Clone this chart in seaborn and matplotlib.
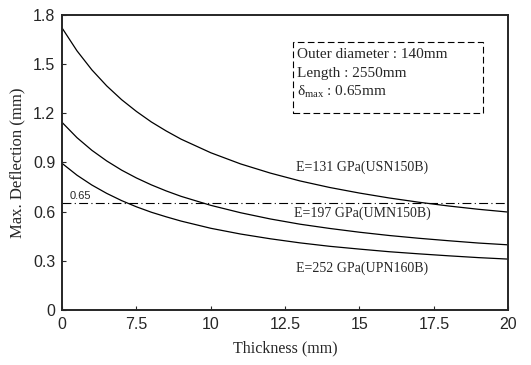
import numpy as np
import pandas as pd
import matplotlib
matplotlib.use("Agg")
import matplotlib.pyplot as plt
from matplotlib.patches import Rectangle
import seaborn as sns

# Tube wall thickness (mm) and maximum deflection (mm) for three moduli
thickness = [5, 5.5, 6, 6.5, 7, 7.5, 8, 8.5, 9, 10, 11, 12, 13, 14, 15, 16, 17, 18, 19, 20]
defl_131 = [1.720, 1.581, 1.465, 1.367, 1.283, 1.211, 1.147, 1.092, 1.042, 0.959,
            0.891, 0.835, 0.787, 0.747, 0.713, 0.683, 0.657, 0.634, 0.614, 0.597]
defl_197 = [1.144, 1.051, 0.974, 0.909, 0.853, 0.805, 0.763, 0.726, 0.693, 0.638,
            0.593, 0.555, 0.523, 0.497, 0.474, 0.454, 0.437, 0.422, 0.408, 0.397]
defl_252 = [0.894, 0.822, 0.762, 0.711, 0.667, 0.629, 0.596, 0.568, 0.542, 0.498,
            0.463, 0.434, 0.409, 0.388, 0.371, 0.355, 0.342, 0.330, 0.319, 0.310]
series_labels = ["E=131 GPa(USN150B)", "E=197 GPa(UMN150B)", "E=252 GPa(UPN160B)"]
limit = 0.65

x_ticks = [5, 7.5, 10, 12.5, 15, 17.5, 20]
x_tick_labels = ["0", "7.5", "10", "12.5", "15", "17.5", "20"]
y_ticks = [0, 0.3, 0.6, 0.9, 1.2, 1.5, 1.8]
y_tick_labels = ["0", "0.3", "0.6", "0.9", "1.2", "1.5", "1.8"]

df = pd.DataFrame({
    "t": thickness * 3,
    "d": defl_131 + defl_197 + defl_252,
    "s": [series_labels[0]] * len(thickness) + [series_labels[1]] * len(thickness)
         + [series_labels[2]] * len(thickness),
})

sns.set_style("ticks")
plt.rcParams["mathtext.fontset"] = "custom"
plt.rcParams["mathtext.rm"] = "Liberation Serif"
plt.rcParams["mathtext.it"] = "Liberation Serif:italic"
serif = ["Liberation Serif", "DejaVu Serif"]
narrow = ["Liberation Sans Narrow", "Liberation Sans", "DejaVu Sans"]

fig = plt.figure(figsize=(5.31, 3.65), dpi=100)
ax = fig.add_axes([0.117, 0.151, 0.840, 0.808])

sns.lineplot(data=df, x="t", y="d", hue="s", palette=["black"] * 3,
             linewidth=0.9, legend=False, ax=ax)
ax.axhline(limit, color="black", linewidth=0.8, linestyle=(0, (8, 3, 1, 3)))

ax.set_xlim(5, 20)
ax.set_ylim(0, 1.8)
ax.set_xticks(x_ticks)
ax.set_xticklabels(x_tick_labels, fontfamily=narrow, fontsize=11.5)
ax.set_yticks(y_ticks)
ax.set_yticklabels(y_tick_labels, fontfamily=narrow, fontsize=11.5)
ax.tick_params(direction="in", length=3, width=0.8, pad=5)
for sp in ax.spines.values():
    sp.set_linewidth(1.4)

ax.set_xlabel("Thickness (mm)", fontfamily=serif, fontsize=11.5, labelpad=6)
ax.set_ylabel("Max. Deflection (mm)", fontfamily=serif, fontsize=12, labelpad=5)

# Curve labels
label_pos = [(15.1, 0.872), (15.1, 0.592), (15.1, 0.256)]
for (lx, ly), txt in zip(label_pos, series_labels):
    ax.text(lx, ly, txt, ha="center", va="center", fontfamily=serif, fontsize=10)
ax.text(5.25, 0.665, "0.65", ha="left", va="bottom", fontfamily=narrow, fontsize=8)

# Specification box
ax.add_patch(Rectangle((0.518, 0.668), 0.426, 0.240, transform=ax.transAxes,
                       facecolor="white", edgecolor="black", linewidth=0.8,
                       linestyle=(0, (6, 3)), zorder=3))
box_lines = ["Outer diameter : 140mm", "Length : 2550mm", "δ$_{\\rm max}$ : 0.65mm"]
for i, line in enumerate(box_lines):
    ax.text(0.527, 0.866 - i * 0.064, line, transform=ax.transAxes, ha="left",
            va="center", fontfamily=serif, fontsize=11, zorder=4)

fig.savefig("out.png", dpi=100)
